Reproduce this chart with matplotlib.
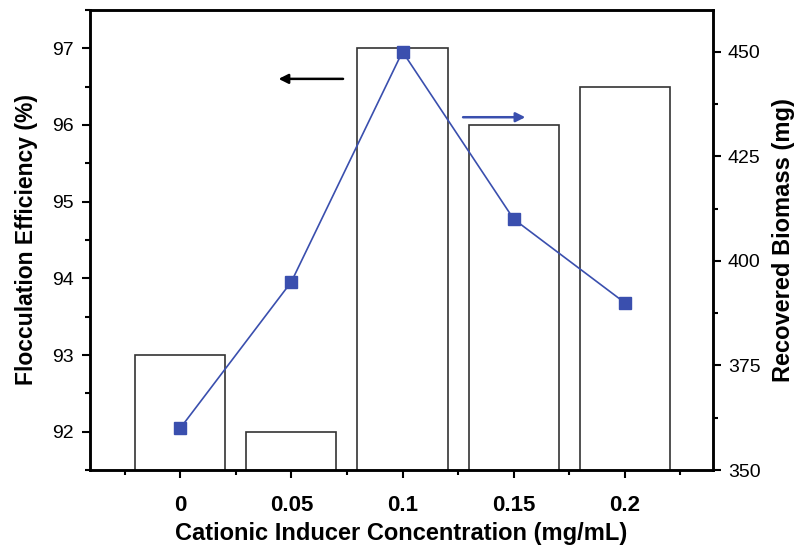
import matplotlib
matplotlib.use("Agg")
import matplotlib.pyplot as plt
from matplotlib.ticker import MultipleLocator
import numpy as np

plt.rcParams['font.family'] = ['Liberation Sans', 'DejaVu Sans']

# data
concentrations = ["0", "0.05", "0.1", "0.15", "0.2"]
efficiency = [93, 92, 97, 96, 96.5]          # %, bars (left axis)
biomass = [360, 395, 450, 410, 390]          # mg, line (right axis)

x = np.arange(len(concentrations))
blue = "#3a4fae"

fig = plt.figure(figsize=(7.98, 5.46), dpi=100)
ax = fig.add_subplot(111)
fig.subplots_adjust(left=0.113, right=0.893, bottom=0.139, top=0.982)

ax.bar(x, efficiency, width=0.81, bottom=0, color="white", edgecolor="#333333", linewidth=1.2, zorder=2)
ax.set_ylim(91.5, 97.5)
ax.set_xlim(-0.81, 4.79)
ax.set_xticks(x)
ax.set_xticklabels(concentrations, fontweight="bold")
ax.xaxis.set_minor_locator(MultipleLocator(0.5))
ax.yaxis.set_major_locator(MultipleLocator(1))
ax.yaxis.set_minor_locator(MultipleLocator(0.5))
ax.set_xlabel("Cationic Inducer Concentration (mg/mL)", fontsize=17, fontweight="bold", labelpad=4)
ax.set_ylabel("Flocculation Efficiency (%)", fontsize=16.5, fontweight="bold", labelpad=10)

ax2 = ax.twinx()
ax2.plot(x, biomass, color=blue, linewidth=1.2, marker="s", markersize=8, zorder=3)
ax2.set_ylim(350, 460)
ax2.yaxis.set_major_locator(MultipleLocator(25))
ax2.yaxis.set_minor_locator(MultipleLocator(12.5))
ax2.set_ylabel("Recovered Biomass (mg)", fontsize=17, fontweight="bold", labelpad=8)

for a in (ax, ax2):
    for s in a.spines.values():
        s.set_linewidth(1.8)
    a.tick_params(which="major", direction="out", length=6, width=1.5, labelsize=14)
    a.tick_params(which="minor", direction="out", length=3.5, width=1.5)
ax.tick_params(axis="y", which="major", pad=6)
ax2.tick_params(axis="y", which="major", pad=5)
ax.tick_params(axis="x", labelsize=16, pad=12)

# axis-indicator arrows
ax.annotate("", xy=(0.86, 96.6), xytext=(1.49, 96.6),
            arrowprops=dict(arrowstyle="-|>", color="black", lw=1.8, mutation_scale=14))
ax.annotate("", xy=(3.13, 96.1), xytext=(2.52, 96.1),
            arrowprops=dict(arrowstyle="-|>", color=blue, lw=1.8, mutation_scale=14))

fig.savefig("out.png", dpi=100)
